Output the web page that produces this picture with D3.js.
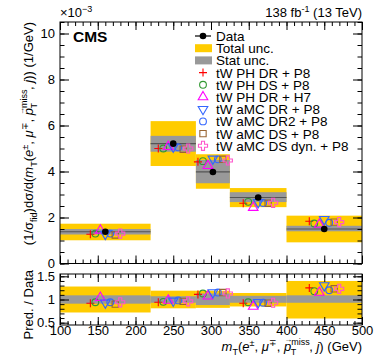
<!DOCTYPE html>
<html>
<head>
<meta charset="utf-8">
<script src="https://cdn.jsdelivr.net/npm/d3@7"></script>
<style>
  body { margin: 0; background: #fff; }
  text { font-family: "Liberation Sans", Arial, sans-serif; fill: #000; }
</style>
</head>
<body>
<script>
// bins in mT (GeV)
const binEdges = [100, 220, 280, 325, 400, 500];

// unfolded data, units of 1e-3 / GeV
const dataVals = [1.38, 5.21, 3.98, 2.87, 1.50];
const totalUp  = [1.73, 6.19, 4.75, 3.28, 2.08];
const totalDn  = [1.01, 4.24, 3.25, 2.45, 0.92];
const statUp   = [1.50, 5.55, 4.50, 3.10, 1.64];
const statDn   = [1.26, 4.86, 3.49, 2.67, 1.40];

// ratio panel bands
const ratioTotalUp = [1.28, 1.19, 1.19, 1.14, 1.40];
const ratioTotalDn = [0.72, 0.81, 0.82, 0.85, 0.59];
const ratioStatUp  = [1.09, 1.07, 1.13, 1.08, 1.09];
const ratioStatDn  = [0.91, 0.93, 0.88, 0.93, 0.93];

// predictions
const predNames = ["tW PH DR + P8", "tW PH DS + P8", "tW PH DR + H7", "tW aMC DR + P8",
                   "tW aMC DR2 + P8", "tW aMC DS + P8", "tW aMC DS dyn. + P8"];
const predVals = [
  [1.27, 5.00, 4.42, 2.62, 1.84],
  [1.30, 5.00, 4.45, 2.68, 1.74],
  [1.44, 5.08, 4.25, 2.43, 1.70],
  [1.28, 5.07, 4.55, 2.66, 1.92],
  [1.30, 5.05, 4.53, 2.63, 1.77],
  [1.24, 4.97, 4.53, 2.62, 1.80],
  [1.30, 5.00, 4.48, 2.64, 1.80]
];
const predRatios = [
  [0.92, 0.94, 1.11, 0.92, 1.25],
  [0.94, 0.95, 1.13, 0.94, 1.18],
  [1.04, 0.98, 1.07, 0.85, 1.15],
  [0.93, 0.97, 1.15, 0.94, 1.30],
  [0.94, 0.98, 1.15, 0.93, 1.20],
  [0.90, 0.96, 1.15, 0.92, 1.23],
  [0.94, 0.96, 1.13, 0.93, 1.23]
];
const predColors = ["#ff0000", "#339933", "#ff00ff", "#3366ff", "#3366ff", "#996633", "#ff55cc"];
const predShapes = ["plus", "circle", "triUp", "triDown", "circle", "square", "cross"];

const yTicks = [0, 2, 4, 6, 8, 10];
const ratioTicks = [0.5, 1, 1.5];
const xTicks = [100, 150, 200, 250, 300, 350, 400, 450, 500];

const W = 374, H = 359;
const left = 60, right = 362;
const topY0 = 22, topY1 = 263.5;
const ratY0 = 274, ratY1 = 325;
const markerStep = 6.6; // GeV between neighbouring predictions

const svg = d3.select("body").append("svg").attr("width", W).attr("height", H);

const x = d3.scaleLinear().domain([100, 500]).range([left, right]);
const y = d3.scaleLinear().domain([0, 10.5]).range([topY1, topY0]);
const yr = d3.scaleLinear().domain([0.45, 1.55]).range([ratY1, ratY0]);

const bins = d3.range(dataVals.length).map(i => ({
  x0: binEdges[i], x1: binEdges[i + 1], c: (binEdges[i] + binEdges[i + 1]) / 2, i: i
}));

function markerPath(shape) {
  if (shape === "plus") return "M-4,0H4M0,-4V4";
  if (shape === "circle") return d3.symbol(d3.symbolCircle, 36)();
  if (shape === "triUp") return d3.symbol(d3.symbolTriangle, 40)();
  if (shape === "triDown") return d3.symbol(d3.symbolTriangle, 40)();
  if (shape === "square") return d3.symbol(d3.symbolSquare, 40)();
  return d3.symbol(d3.symbolCross, 46)();
}

function drawMarker(g, shape, color, cx, cy) {
  g.append("path")
    .attr("d", markerPath(shape))
    .attr("transform", `translate(${cx},${cy})` + (shape === "triDown" ? " rotate(180)" : ""))
    .attr("fill", "none")
    .attr("stroke", color)
    .attr("stroke-width", 1.1);
}

// ---------- upper panel ----------
const upper = svg.append("g");
upper.selectAll(".tot").data(bins).enter().append("rect")
  .attr("x", d => x(d.x0)).attr("width", d => x(d.x1) - x(d.x0))
  .attr("y", d => y(totalUp[d.i])).attr("height", d => y(totalDn[d.i]) - y(totalUp[d.i]))
  .attr("fill", "#ffcc00");
upper.selectAll(".stat").data(bins).enter().append("rect")
  .attr("x", d => x(d.x0)).attr("width", d => x(d.x1) - x(d.x0))
  .attr("y", d => y(statUp[d.i])).attr("height", d => y(statDn[d.i]) - y(statUp[d.i]))
  .attr("fill", "#999999");
upper.selectAll(".cen").data(bins).enter().append("line")
  .attr("x1", d => x(d.x0)).attr("x2", d => x(d.x1))
  .attr("y1", d => y(dataVals[d.i])).attr("y2", d => y(dataVals[d.i]))
  .attr("stroke", "#555").attr("stroke-width", 1.2);

predVals.forEach((vals, k) => {
  bins.forEach(b => drawMarker(upper, predShapes[k], predColors[k], x(b.c + (k - 3) * markerStep), y(vals[b.i])));
});
upper.selectAll(".data").data(bins).enter().append("circle")
  .attr("cx", d => x(d.c)).attr("cy", d => y(dataVals[d.i])).attr("r", 3.3).attr("fill", "#000");

// ---------- ratio panel ----------
const rat = svg.append("g");
rat.selectAll(".tot").data(bins).enter().append("rect")
  .attr("x", d => x(d.x0)).attr("width", d => x(d.x1) - x(d.x0))
  .attr("y", d => yr(ratioTotalUp[d.i])).attr("height", d => yr(ratioTotalDn[d.i]) - yr(ratioTotalUp[d.i]))
  .attr("fill", "#ffcc00");
rat.selectAll(".stat").data(bins).enter().append("rect")
  .attr("x", d => x(d.x0)).attr("width", d => x(d.x1) - x(d.x0))
  .attr("y", d => yr(ratioStatUp[d.i])).attr("height", d => yr(ratioStatDn[d.i]) - yr(ratioStatUp[d.i]))
  .attr("fill", "#999999");
predRatios.forEach((vals, k) => {
  bins.forEach(b => drawMarker(rat, predShapes[k], predColors[k], x(b.c + (k - 3) * markerStep), yr(vals[b.i])));
});

// ---------- axes (ROOT style, ticks inside on all sides) ----------
function frameAxes(yScale, y0, y1, majorY, minorY, labelsX, fmtY) {
  const g = svg.append("g").attr("class", "axes");
  const minorX = d3.range(100, 501, 10);
  g.append("g").attr("transform", `translate(0,${y1})`)
    .call(d3.axisBottom(x).tickValues(xTicks).tickSize(-8).tickPadding(1).tickFormat(labelsX ? d3.format("d") : ""));
  g.append("g").attr("transform", `translate(0,${y1})`)
    .call(d3.axisBottom(x).tickValues(minorX).tickSize(-4).tickFormat(""));
  g.append("g").attr("transform", `translate(0,${y0})`)
    .call(d3.axisTop(x).tickValues(xTicks).tickSize(-8).tickFormat(""));
  g.append("g").attr("transform", `translate(0,${y0})`)
    .call(d3.axisTop(x).tickValues(minorX).tickSize(-4).tickFormat(""));
  g.append("g").attr("transform", `translate(${left},0)`)
    .call(d3.axisLeft(yScale).tickValues(majorY).tickSize(-9).tickPadding(5).tickFormat(fmtY));
  g.append("g").attr("transform", `translate(${left},0)`)
    .call(d3.axisLeft(yScale).tickValues(minorY).tickSize(-4.5).tickFormat(""));
  g.append("g").attr("transform", `translate(${right},0)`)
    .call(d3.axisRight(yScale).tickValues(majorY).tickSize(-9).tickFormat(""));
  g.append("g").attr("transform", `translate(${right},0)`)
    .call(d3.axisRight(yScale).tickValues(minorY).tickSize(-4.5).tickFormat(""));
  g.selectAll(".domain").remove();
  g.selectAll("line").attr("stroke", "#000");
  g.selectAll("text").style("font-size", "13px").attr("fill", "#000")
    .style("font-family", "'Liberation Sans', Arial, sans-serif");
  g.append("rect").attr("x", left).attr("y", y0).attr("width", right - left).attr("height", y1 - y0)
    .attr("fill", "none").attr("stroke", "#000").attr("stroke-width", 1);
}
frameAxes(y, topY0, topY1, yTicks, d3.range(0, 10.51, 0.5), false, d3.format("d"));
frameAxes(yr, ratY0, ratY1, ratioTicks, d3.range(0.5, 1.51, 0.1), true, d => d === 1 ? "1" : d3.format(".1f")(d));

// ---------- texts ----------
function rich(t, parts) {
  parts.forEach(p => {
    const s = t.append("tspan").text(p.t);
    if (p.dx) s.attr("dx", p.dx);
    if (p.dy) s.attr("dy", p.dy);
    if (p.fs) s.style("font-size", p.fs + "px");
    if (p.it) s.style("font-style", "italic");
  });
  return t;
}

svg.append("text").attr("x", 60).attr("y", 17).style("font-size", "13px")
  .call(t => rich(t, [{t: "×10"}, {t: "−3", fs: 9, dy: -5}]));
svg.append("text").attr("x", right).attr("y", 17).attr("text-anchor", "end").style("font-size", "13px")
  .call(t => rich(t, [{t: "138 fb"}, {t: "-1", fs: 9, dy: -5}, {t: " (13 TeV)", dy: 5}]));
svg.append("text").attr("x", 73).attr("y", 42).style("font-size", "15.5px").style("font-weight", "bold").text("CMS");

const massParts = [
  {t: "m", it: true}, {t: "T", fs: 9, dy: 4}, {t: "(", dy: -4},
  {t: "e", it: true}, {t: "±", fs: 9, dy: -5}, {t: ", ", dy: 5},
  {t: "μ", it: true}, {t: "∓", fs: 9, dy: -5}, {t: ", ", dy: 5},
  {t: "p", it: true}, {t: "→", fs: 8, dx: -7, dy: -9}, {t: "miss", fs: 9, dx: -1, dy: 3},
  {t: "T", fs: 9, dx: -19, dy: 10}, {t: ", ", dx: 13, dy: -4},
  {t: "j", it: true}, {t: ")"}
];

svg.append("text").attr("transform", `translate(33,${topY0}) rotate(-90)`).attr("text-anchor", "end")
  .style("font-size", "13px")
  .call(t => rich(t, [{t: "(1/σ"}, {t: "fid", fs: 9, dy: 4}, {t: ")dσ/d(", dy: -4}]
    .concat(massParts).concat([{t: ") (1/GeV)"}])));

svg.append("text").attr("transform", `translate(33,270) rotate(-90)`).attr("text-anchor", "end")
  .style("font-size", "13px").text("Pred. / Data");

svg.append("text").attr("x", right).attr("y", 351).attr("text-anchor", "end").style("font-size", "13px")
  .call(t => rich(t, massParts.concat([{t: " (GeV)"}])));

// ---------- legend ----------
const leg = svg.append("g");
const legX = 203, legTextX = 216, legY0 = 36, legDy = 12.2;
const legFont = "13.5px";
function legText(i, label) {
  leg.append("text").attr("x", legTextX).attr("y", legY0 + i * legDy + 5).style("font-size", legFont).text(label);
}
leg.append("line").attr("x1", legX - 8).attr("x2", legX + 8).attr("y1", legY0).attr("y2", legY0).attr("stroke", "#000").attr("stroke-width", 1.2);
leg.append("circle").attr("cx", legX).attr("cy", legY0).attr("r", 3.3).attr("fill", "#000");
legText(0, "Data");
leg.append("rect").attr("x", legX - 8).attr("y", legY0 + legDy - 4).attr("width", 17).attr("height", 8).attr("fill", "#ffcc00");
legText(1, "Total unc.");
leg.append("rect").attr("x", legX - 8).attr("y", legY0 + 2 * legDy - 4).attr("width", 17).attr("height", 8).attr("fill", "#999999");
legText(2, "Stat unc.");
predNames.forEach((n, k) => {
  drawMarker(leg, predShapes[k], predColors[k], legX, legY0 + (k + 3) * legDy);
  legText(k + 3, n);
});
</script>
</body>
</html>
